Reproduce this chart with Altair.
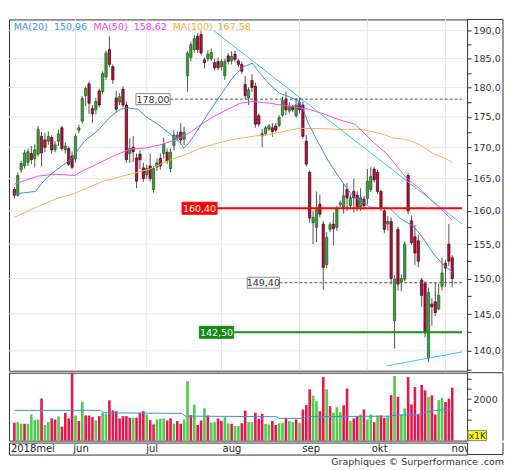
import altair as alt
import pandas as pd

# ---------------- data ----------------
opens = [163.3,162.4,166.4,167.0,167.6,169.0,168.2,168.9,171.8,171.2,
         171.0,171.6,169.6,171.0,173.2,169.6,169.8,168.6,168.1,172.8,
         174.3,178.6,180.6,176.4,176.2,179.4,179.3,181.8,186.6,183.6,
         178.2,177.5,179.7,177.0,169.0,170.0,168.3,168.9,166.7,165.6,
         167.0,163.3,166.8,168.2,169.0,169.2,166.6,170.3,171.5,172.5,
         171.3,182.0,185.2,186.6,189.0,189.3,184.8,185.0,185.0,184.3,
         184.5,183.6,182.0,185.5,184.6,185.8,184.6,184.0,180.5,178.2,
         181.2,180.2,175.2,172.2,172.2,173.0,173.2,173.5,173.6,175.3,
         178.0,176.0,176.8,175.2,177.4,177.0,171.0,166.0,158.2,157.5,
         161.0,158.0,152.0,157.2,158.0,157.5,161.0,160.5,163.3,160.8,
         163.0,162.4,160.6,161.8,161.9,163.3,166.5,166.0,163.0,160.0,
         158.0,158.4,144.1,157.2,149.5,149.9,165.5,158.5,156.1,155.5,
         149.8,149.3,139.0,146.4,146.7,145.7,148.9,152.2,155.0,153.0]
highs = [163.7,166.0,167.8,169.6,169.8,170.2,170.5,173.5,172.5,172.4,
         172.6,172.0,171.0,172.9,173.5,170.8,170.2,169.3,172.2,173.7,
         178.5,180.2,181.0,177.0,178.2,179.8,182.8,186.4,189.0,184.0,
         179.4,179.0,180.2,177.6,171.5,171.8,169.0,169.5,167.5,167.2,
         169.0,167.0,168.2,169.0,171.6,169.8,169.8,172.8,172.6,174.0,
         173.4,186.3,188.0,189.2,189.6,190.0,185.2,186.5,186.8,185.0,
         185.2,185.0,185.0,186.0,186.3,186.4,185.0,184.5,182.0,180.0,
         182.3,180.8,175.6,173.0,173.5,173.8,174.0,174.0,175.3,178.4,
         179.3,177.5,177.0,178.2,178.2,177.6,172.0,166.3,160.0,163.0,
         162.5,158.5,156.8,158.3,159.8,160.8,161.6,164.3,164.3,162.5,
         165.0,163.0,163.5,162.3,166.5,166.8,166.8,166.4,163.3,160.6,
         159.2,159.0,150.5,157.6,150.6,155.4,165.9,159.3,157.9,156.4,
         150.1,149.6,148.7,147.2,149.4,149.3,153.0,152.7,158.0,153.4]
lows = [161.9,162.2,165.9,166.6,167.0,167.3,166.8,168.5,166.9,169.2,
        170.4,169.0,169.2,170.2,169.4,169.0,167.0,166.5,167.6,172.3,
        173.9,176.8,175.5,174.0,175.4,176.6,178.8,181.3,183.5,180.6,
        175.8,177.0,176.6,167.5,167.5,167.6,163.5,166.5,164.5,165.0,
        164.5,162.8,166.2,166.4,168.2,167.3,166.0,169.5,171.0,170.5,
        170.4,179.3,184.5,186.0,186.0,185.6,183.3,184.5,184.6,182.9,
        183.0,183.0,181.3,184.0,184.0,184.4,183.5,182.3,178.0,177.0,
        179.2,173.2,173.4,170.0,171.9,172.7,171.7,172.5,173.3,175.0,
        175.3,175.6,175.8,174.9,175.6,171.4,166.9,158.2,155.0,155.3,
        159.0,148.4,151.5,156.8,154.8,157.0,160.6,159.6,160.0,160.2,
        159.8,160.0,160.0,160.2,161.0,162.9,164.4,162.6,160.0,156.6,
        157.0,149.2,140.3,148.3,148.2,149.6,159.5,154.9,151.9,151.6,
        146.0,141.8,138.5,143.4,144.7,145.5,148.3,148.8,151.8,148.8]
closes = [162.4,165.5,167.4,169.1,169.3,168.0,169.6,172.9,169.1,170.0,
          171.8,169.6,170.4,172.2,169.8,170.2,167.3,166.8,171.8,173.2,
          178.1,179.8,177.3,175.5,177.6,177.0,182.4,186.0,184.0,181.3,
          176.3,178.4,177.0,168.0,169.8,169.3,164.6,168.0,165.0,166.6,
          165.0,166.6,167.5,167.0,170.5,167.8,169.2,172.0,172.0,171.2,
          172.5,186.0,187.5,188.6,186.6,186.0,184.3,185.8,186.1,183.4,
          183.4,184.5,184.5,184.5,185.4,184.9,184.0,182.8,178.6,179.6,
          180.0,173.8,173.8,171.9,173.2,173.5,172.6,172.8,174.9,177.8,
          176.2,176.8,176.2,177.0,176.2,171.8,167.3,158.9,159.0,160.2,
          159.5,151.6,156.0,157.9,157.3,160.3,161.2,162.3,162.0,162.0,
          162.0,160.6,162.0,160.8,164.6,165.3,164.8,163.0,160.5,157.2,
          158.4,150.0,149.9,149.2,150.0,155.0,160.0,155.2,153.7,152.5,
          147.6,142.4,148.0,146.0,145.2,147.6,150.8,151.5,152.5,150.0]

volumes = [860,890,810,810,810,1260,990,1020,2030,750,
           890,1070,1020,1165,670,1340,1070,3270,1210,940,
           1870,1210,1210,1130,970,1180,1340,1290,1940,1450,
           1420,1070,1180,1180,1100,1100,1100,1340,1420,1260,
           990,780,1020,1050,1070,970,1070,810,940,810,
           1020,2870,1230,1740,750,970,1550,1210,860,890,
           1070,940,1130,830,810,700,700,840,1450,890,
           890,1340,1050,1290,810,780,940,750,830,860,
           1100,940,890,1020,860,1500,1710,2470,2160,1900,
           1420,3060,2470,1660,1340,1610,1370,1700,2510,940,
           1070,1180,1260,1500,1020,1260,890,1210,1210,1100,
           1180,2190,3110,2110,1260,1550,3060,1740,2580,1260,
           2680,2420,2100,2180,1260,1950,2060,1860,2020,2550]
vol_dir = ("rggrggggrg" "grrgrrrrgr" "grrrgrggrr" "rrrrrgrrrg" "rrgggrrgrr"
           "ggrgrrgrgg" "rrggrggrrg" "grrrggrrgg" "rggrgrrrgg" "rrgrgggrrg"
           "rrgrggrgrr" "grgrggrrrr" "rrgrrggrrr")

vma_idx = [0, 25.4, 26.3, 49.4, 50.3, 77.2, 78.1, 84.8, 86.3, 110.7, 112.6, 118.4, 120.3, 124.1, 129]
vma_val = [1455, 1455, 1340, 1310, 1180, 1150, 1070, 1070, 1150, 1180, 1230, 1230, 1340, 1455, 1500]

ma20_idx = [-0.1, 6.2, 9.1, 12.0, 16.9, 20.6, 24.3, 28.4, 31.2, 33.5, 36.4, 38.7, 42.2, 45.6, 48.5,
            49.9, 51.4, 54.2, 57.1, 60.9, 64.6, 67.5, 70.1, 72.4, 75.2, 78.1, 81.0, 83.9, 85.3, 86.7,
            89.6, 92.5, 95.4, 98.2, 100.3, 102.6, 104.6, 106.9, 110.6, 113.5, 117.5, 120.4, 123.3, 126.1, 129]
ma20_val = [162.6, 163.0, 164.9, 166.2, 168.2, 171.0, 172.6, 175.1, 176.3, 176.5, 176.3, 175.1, 173.8, 172.3, 171.0,
            169.9, 170.7, 173.0, 175.6, 178.8, 181.9, 183.6, 184.2, 182.4, 180.5, 179.0, 178.4, 177.6, 175.9, 173.8,
            170.7, 167.8, 165.4, 163.3, 162.0, 161.5, 160.6, 160.4, 160.4, 158.9, 157.7, 155.9, 153.7, 152.1, 150.96]
ma50_idx = [-0.1, 3.3, 7.1, 12.0, 17.7, 20.0, 24.3, 29.2, 34.1, 38.7, 43.6, 47.3, 51.4, 55.1, 58.8, 62.9,
            66.6, 70.3, 75.2, 81.0, 86.7, 91.6, 95.4, 100.3, 103.1, 106.0, 109.7, 112.6, 115.5, 119.2, 122.1, 125.6, 129]
ma50_val = [164.1, 164.75, 165.4, 165.7, 165.5, 166.2, 167.3, 168.6, 169.7, 169.9, 170.5, 171.2, 172.3, 173.8, 175.1, 176.3,
            177.3, 177.6, 177.3, 176.8, 176.3, 175.4, 174.6, 173.8, 172.3, 170.7, 169.0, 167.0, 165.1, 163.5, 162.0, 160.3, 158.62]
ma100_idx = [-0.1, 7.1, 12.0, 17.7, 22.6, 26.3, 34.1, 39.9, 45.6, 49.4, 55.1, 60.0, 64.6, 70.3, 75.2, 81.0,
             83.9, 88.7, 95.4, 101.9, 107.7, 111.8, 115.5, 119.2, 123.3, 127.0, 129]
ma100_val = [159.0, 160.7, 161.8, 162.7, 163.8, 164.6, 165.7, 166.5, 167.9, 168.6, 169.9, 170.7, 171.3, 171.8, 172.1, 172.8,
             173.1, 173.1, 172.95, 172.95, 172.3, 171.5, 171.3, 170.5, 169.0, 168.2, 167.58]

ma_names = ["MA(20)", "MA(50)", "MA(100)"]
ma_last = [150.96, 158.62, 167.58]

trend_id = ["a", "a", "b", "b"]
trend_idx = [58.8, 131.9, 109.7, 131.9]
trend_val = [190.0, 158.0, 138.0, 139.86]

levels = [178.00, 149.40, 160.40, 142.50]

month_labels = ["2018mei", "jun", "jul", "aug", "sep", "okt", "nov"]
month_idx = [0, 18, 39, 61, 84, 104, 127]

price_ticks = [137.5, 140.0, 142.5, 145.0, 147.5, 150.0, 152.5, 155.0, 157.5, 160.0, 162.5,
               165.0, 167.5, 170.0, 172.5, 175.0, 177.5, 180.0, 182.5, 185.0, 187.5, 190.0]
grid_prices = [140, 145, 150, 155, 160, 165, 170, 175, 180, 185, 190]
vol_ticks = [500, 1000, 1500, 2000, 2500, 3000]

credit = "Graphiques © Surperformance .com"

# ---------------- layout / style ----------------
FONT = "DejaVu Sans"
W, HP, HV, HS = 459, 352, 68, 12
XMAX = 131.9
FR = 495  # outer right border (plot-relative px)
FRAME = "#333333"

xs = alt.Scale(domain=[-0.115, XMAX], nice=False, zero=False)
ys = alt.Scale(type="log", domain=[137.37, 192.06], nice=False)
vs = alt.Scale(domain=[0, 3270], nice=False)

AXP = alt.Axis(orient="right", values=price_ticks, grid=False, domain=False,
               tickSize=4, tickColor=FRAME, labelColor="#333333", labelFont=FONT,
               labelFontSize=9.5, labelPadding=2,
               labelExpr="datum.value % 5 == 0 ? replace(format(datum.value, '.1f'), '.', ',') : ''")
AXV = alt.Axis(orient="right", values=vol_ticks, grid=False, domain=False, tickSize=4,
               tickColor=FRAME, labelColor="#333333", labelFont=FONT, labelFontSize=9.5,
               labelPadding=2, labelExpr="datum.value == 2000 ? '2000' : ''")


def X(f="i"):
    return alt.X(f"{f}:Q", scale=xs, axis=None)


def Y(f="p"):
    return alt.Y(f"{f}:Q", scale=ys, axis=AXP, title=None)


def V(f="v"):
    return alt.Y(f"{f}:Q", scale=vs, axis=AXV, title=None)


def fmt(v, d):
    return f"{v:.{d}f}".replace(".", ",")


one = pd.DataFrame({"a": [0]})


def frame_rule(x1, x2, y1, y2):
    return alt.Chart(one).mark_rule(color=FRAME, strokeWidth=1).encode(
        x=alt.value(x1), x2=alt.value(x2), y=alt.value(y1), y2=alt.value(y2))


# ---------------- price panel ----------------
grid_h = alt.Chart(pd.DataFrame({"p": grid_prices})).mark_rule(color="#e6e6e6", strokeWidth=1).encode(y=Y())
grid_v = alt.Chart(pd.DataFrame({"i": month_idx[1:]})).mark_rule(color="#e6e6e6", strokeWidth=1).encode(x=X())

cdf = pd.DataFrame({"i": list(range(len(opens))), "o": opens, "h": highs, "l": lows, "c": closes})
cdf["dir"] = ["up" if c >= o else "down" for o, c in zip(opens, closes)]

wicks = alt.Chart(cdf).mark_rule(color="#555555", strokeWidth=1).encode(x=X(), y=Y("l"), y2=alt.Y2("h"))
bodies = alt.Chart(cdf).mark_bar(size=2.3, strokeWidth=0.7).encode(
    x=X(), y=Y("o"), y2=alt.Y2("c"),
    fill=alt.Fill("dir:N", scale=alt.Scale(domain=["up", "down"], range=["#3a9e3a", "#b4123e"]), legend=None),
    stroke=alt.Stroke("dir:N", scale=alt.Scale(domain=["up", "down"], range=["#1d5e1d", "#4a0010"]), legend=None))


def ma_line(ix, vals, color):
    return alt.Chart(pd.DataFrame({"i": ix, "p": vals})).mark_line(color=color, strokeWidth=1).encode(x=X(), y=Y())


ma100 = ma_line(ma100_idx, ma100_val, "#ffb04a")
ma50 = ma_line(ma50_idx, ma50_val, "#ff44ff")
ma20 = ma_line(ma20_idx, ma20_val, "#3d8fdc")
trend = alt.Chart(pd.DataFrame({"id": trend_id, "i": trend_idx, "p": trend_val})).mark_line(
    color="#33c8ff", strokeWidth=1).encode(x=X(), y=Y(), detail="id:N")

# annotation geometry (index units of the x scale)
box_start = [35.8, 68.6, 49.4, 54.5]
box_end = [45.9, 78.1, 59.7, 64.6]
lv = pd.DataFrame({"p": levels, "b0": box_start, "b1": box_end,
                   "bm": [(a + b) / 2 for a, b in zip(box_start, box_end)],
                   "x2": [XMAX] * 4, "t": [fmt(v, 2) for v in levels]})
dashed = lv.iloc[[0, 1]]
red = lv.iloc[[2]]
green = lv.iloc[[3]]

dash_rules = alt.Chart(dashed).mark_rule(color="#555555", strokeWidth=1, strokeDash=[3, 2]).encode(
    x=X("b1"), x2=alt.X2("x2"), y=Y())
red_rule = alt.Chart(red).mark_rule(color="#ff0000", strokeWidth=2).encode(x=X("b1"), x2=alt.X2("x2"), y=Y())
green_rule = alt.Chart(green).mark_rule(color="#149414", strokeWidth=2).encode(x=X("b1"), x2=alt.X2("x2"), y=Y())


def box(df, fill, stroke, tcolor, half):
    r = alt.Chart(df).mark_rect(fill=fill, stroke=stroke, strokeWidth=1, yOffset=-half, y2Offset=half).encode(
        x=X("b0"), x2=alt.X2("b1"), y=Y(), y2=alt.Y2("p"))
    t = alt.Chart(df).mark_text(font=FONT, fontSize=9.5, color=tcolor, baseline="middle", dy=0.5).encode(
        x=X("bm"), y=Y(), text="t:N")
    return r + t


boxes = (box(dashed, "#ffffff", "#888888", "#333333", 5.5)
         + box(red, "#ff0000", "#ff0000", "#ffffff", 6)
         + box(green, "#138a13", "#138a13", "#ffffff", 6))

leg_colors = ["#3399ee", "#ff33ff", "#ffa833"]
leg_name_x = [4.7, 84.7, 164]
leg_val_x = [45, 125, 209]
legend_layers = []
for name, val, col, xn, xv in zip(ma_names, ma_last, leg_colors, leg_name_x, leg_val_x):
    for txt, px in ((name, xn), (fmt(val, 2), xv)):
        legend_layers.append(
            alt.Chart(pd.DataFrame({"t": [txt]})).mark_text(
                align="left", baseline="middle", font=FONT, fontSize=9.5, color=col).encode(
                x=alt.value(px), y=alt.value(7.3), text="t:N"))

price = alt.layer(
    grid_h, grid_v, wicks, bodies, ma100, ma50, ma20, trend,
    dash_rules, red_rule, green_rule, boxes, *legend_layers,
    frame_rule(W, FR, 0, 0), frame_rule(FR, FR, 0, HP),
).properties(width=W, height=HP)

# ---------------- volume panel ----------------
vdf = pd.DataFrame({"i": list(range(len(volumes))), "v": volumes,
                    "dir": ["up" if d == "g" else "down" for d in vol_dir]})
vbars = alt.Chart(vdf).mark_bar(size=2.6).encode(
    x=X(), y=V(),
    color=alt.Color("dir:N", scale=alt.Scale(domain=["up", "down"], range=["#4ccd4c", "#e8164e"]), legend=None))
vma = alt.Chart(pd.DataFrame({"i": vma_idx, "v": vma_val})).mark_line(color="#3d8fdc", strokeWidth=1).encode(
    x=X(), y=V())
badge_df = pd.DataFrame({"t": ["x1K"]})
badge = alt.Chart(badge_df).mark_rect(fill="#ffff00", stroke="#888888", strokeWidth=1).encode(
    x=alt.value(460), x2=alt.value(478.5), y=alt.value(58), y2=alt.value(68))
badge_t = alt.Chart(badge_df).mark_text(font=FONT, fontSize=9, color="#333333", baseline="middle").encode(
    x=alt.value(469.3), y=alt.value(63.3), text="t:N")

volume = alt.layer(
    vbars, vma, badge, badge_t, frame_rule(W, FR, 0, 0), frame_rule(FR, FR, 0, HV)
).properties(width=W, height=HV)

# ---------------- month strip ----------------
mdf = pd.DataFrame({"i": month_idx, "t": month_labels})
months = alt.Chart(mdf).mark_text(align="left", baseline="middle", dx=1.5, font=FONT, fontSize=10,
                                  color="#222222", clip=True).encode(x=X(), y=alt.value(6.3), text="t:N")
strip = alt.layer(
    months, frame_rule(W, FR, HS, HS), frame_rule(FR, FR, 0, HS)
).properties(width=W, height=HS)

chart = alt.vconcat(price, volume, strip, spacing=0).properties(
    padding={"left": 0, "top": 10, "right": 0, "bottom": 0},
    title=alt.TitleParams(text=credit, orient="bottom", anchor="end", font=FONT, fontSize=9.5,
                          fontWeight="normal", color="#333333", offset=1),
).configure_view(stroke=FRAME, strokeWidth=1)

chart.save("out.html", embed_options={"renderer": "svg", "actions": False})
